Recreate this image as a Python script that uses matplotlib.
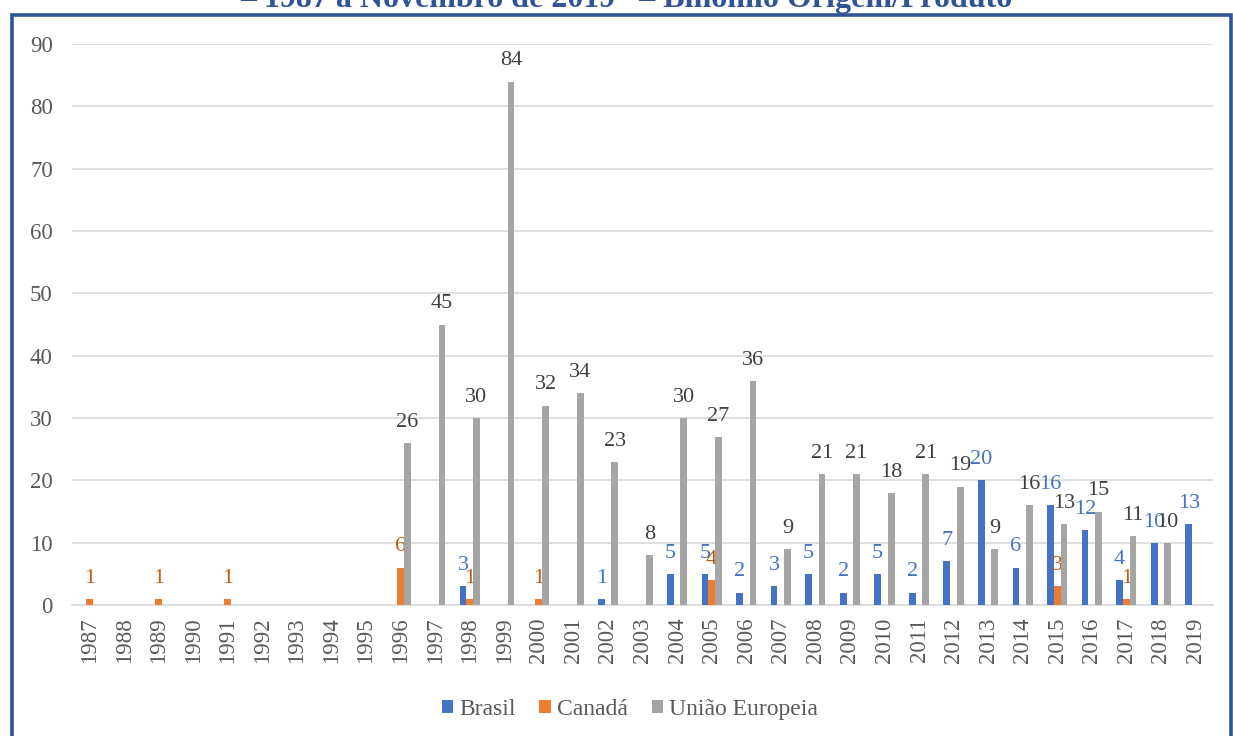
import numpy as np
import matplotlib
matplotlib.use("Agg")
import matplotlib.pyplot as plt
from matplotlib.patches import Rectangle

plt.rcParams['font.family'] = ['Liberation Serif', 'DejaVu Serif']

years = list(range(1987, 2020))
brasil = {1998: 3, 2002: 1, 2004: 5, 2005: 5, 2006: 2, 2007: 3, 2008: 5,
          2009: 2, 2010: 5, 2011: 2, 2012: 7, 2013: 20, 2014: 6, 2015: 16,
          2016: 12, 2017: 4, 2018: 10, 2019: 13}
canada = {1987: 1, 1989: 1, 1991: 1, 1996: 6, 1998: 1, 2000: 1, 2005: 4,
          2015: 3, 2017: 1}
ue = {1996: 26, 1997: 45, 1998: 30, 1999: 84, 2000: 32, 2001: 34, 2002: 23,
      2003: 8, 2004: 30, 2005: 27, 2006: 36, 2007: 9, 2008: 21, 2009: 21,
      2010: 18, 2011: 21, 2012: 19, 2013: 9, 2014: 16, 2015: 13, 2016: 15,
      2017: 11, 2018: 10}

series = [("Brasil", brasil, '#4472C4', '#4472C4'),
          ("Canadá", canada, '#ED7D31', '#C55A11'),
          ("União Europeia", ue, '#A5A5A5', '#404040')]

fig = plt.figure(figsize=(12.33, 7.36), dpi=100)
ax = fig.add_axes([0.0586, 0.178, 0.925, 0.762])

x = np.arange(len(years))
w = 0.195
for i, (name, d, col, lcol) in enumerate(series):
    xs = [x[k] + (i - 1) * w for k, y in enumerate(years) if y in d]
    vs = [d[y] for y in years if y in d]
    bars = ax.bar(xs, vs, width=w, color=col, label=name, zorder=3)
    ax.bar_label(bars, padding=8, color=lcol, fontsize=16)

ax.set_xlim(-0.5, len(years) - 0.5)
ax.set_ylim(0, 90)
ax.set_yticks(range(0, 91, 10))
ax.set_xticks(x)
ax.set_xticklabels([str(y) for y in years], rotation=90)
ax.tick_params(axis='both', length=0, labelsize=16.5, colors='#595959')
ax.tick_params(axis='y', pad=14)
ax.tick_params(axis='x', pad=9)
ax.grid(axis='y', color='#D9D9D9', linewidth=1.2, zorder=0)
for s in ['top', 'right', 'left']:
    ax.spines[s].set_visible(False)
ax.spines['bottom'].set_color('#D9D9D9')
ax.spines['bottom'].set_linewidth(1.2)

ax.legend(loc='center', bbox_to_anchor=(0.489, -0.186), ncol=3, frameon=False,
          fontsize=17, handlelength=0.5, handleheight=0.5, handletextpad=0.25,
          columnspacing=1.0, labelcolor='#595959')

fig.text(0.508, 1 - 7 / 736, "– 1987 a Novembro de 2019   – Binômio Origem/Produto",
         ha='center', va='baseline', fontsize=23, fontweight='bold', color='#2F5597')

fig.add_artist(Rectangle((11.5 / 1233, -0.1), (1231 - 11.5) / 1233, 1.1 - 15.5 / 736,
                         transform=fig.transFigure, fill=False,
                         edgecolor='#2F5597', linewidth=2.6))

fig.savefig("out.png", dpi=100)
